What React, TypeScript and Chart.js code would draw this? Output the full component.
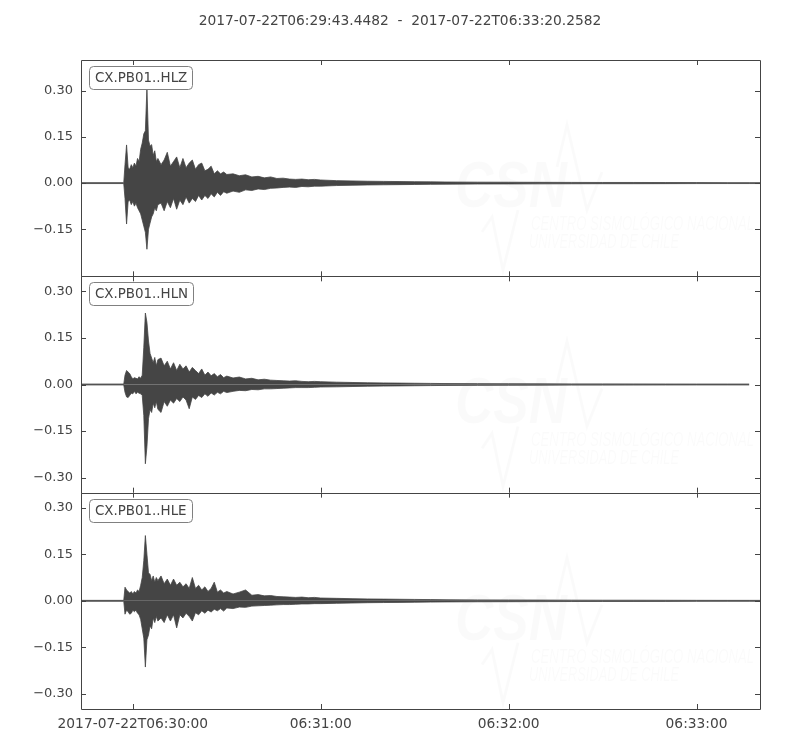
import React, { useEffect, useRef } from "react";
import { Chart, registerables } from "chart.js";

Chart.register(...registerables);

// time axis is in seconds relative to 2017-07-22T06:30:00
const TITLE = "2017-07-22T06:29:43.4482  -  2017-07-22T06:33:20.2582";
const START = -16.5518;
const END = 200.2582;
const X_TICKS = [0, 60, 120, 180];
const X_TICK_LABELS = ["2017-07-22T06:30:00", "06:31:00", "06:32:00", "06:33:00"];

const CHANNELS = ["CX.PB01..HLZ", "CX.PB01..HLN", "CX.PB01..HLE"];
const Y_TICKS_HLZ = [0.3, 0.15, 0, -0.15];
const Y_TICKS = [0.3, 0.15, 0, -0.15, -0.3];
const Y_RANGE_HLZ = [-0.303, 0.4];
const Y_RANGE = [-0.348, 0.348];

// sample times of the envelope (s)
const TIMES = [
  -16.55, -2.9, -2.5, -2, -1.5, -1, -0.5, 0, 0.5, 1, 1.5, 2, 2.5, 3, 3.5, 4, 4.5, 5, 5.5, 6, 6.5, 7, 7.5, 8,
  9, 10, 11, 12, 13, 14, 15, 16, 17, 18, 19, 20, 21, 22, 23, 24, 25, 26, 27, 28, 29, 30,
  32, 34, 36, 38, 40, 42, 44, 46, 48, 50, 52, 54, 56, 58, 60,
  65, 70, 75, 80, 85, 90, 95, 100,
  110, 120, 130, 140, 150, 160, 170, 180, 190,
  196.8, 200.26,
];

// HLZ envelope (upper / lower)
const HLZ_UP = [
  0.0015, 0.0015, 0.06, 0.124, 0.05, 0.045, 0.06, 0.05, 0.065, 0.055, 0.08, 0.07, 0.11, 0.13, 0.16, 0.17, 0.31, 0.14, 0.12, 0.125, 0.09, 0.105, 0.07, 0.08,
  0.06, 0.075, 0.1, 0.055, 0.07, 0.085, 0.05, 0.08, 0.05, 0.065, 0.075, 0.045, 0.06, 0.065, 0.04, 0.045, 0.055, 0.03, 0.04, 0.03, 0.036, 0.028,
  0.03, 0.024, 0.027, 0.02, 0.022, 0.017, 0.02, 0.015, 0.016, 0.013, 0.012, 0.013, 0.011, 0.012, 0.01,
  0.008, 0.007, 0.006, 0.0055, 0.005, 0.0045, 0.004, 0.0035,
  0.003, 0.0028, 0.0025, 0.0022, 0.002, 0.002, 0.0018, 0.0016, 0.0015,
  0.0015, 0.0015,
];
const HLZ_LO = [
  -0.0015, -0.0015, -0.05, -0.133, -0.06, -0.055, -0.07, -0.06, -0.075, -0.065, -0.08, -0.09, -0.1, -0.12, -0.14, -0.16, -0.215, -0.15, -0.13, -0.11, -0.1, -0.08, -0.09, -0.07,
  -0.065, -0.09, -0.06, -0.08, -0.05, -0.085, -0.055, -0.07, -0.045, -0.065, -0.05, -0.06, -0.04, -0.055, -0.04, -0.05, -0.035, -0.045, -0.03, -0.04, -0.028, -0.033,
  -0.026, -0.03, -0.022, -0.024, -0.019, -0.021, -0.017, -0.016, -0.014, -0.013, -0.014, -0.011, -0.012, -0.01, -0.01,
  -0.008, -0.007, -0.006, -0.0055, -0.005, -0.0045, -0.004, -0.0035,
  -0.003, -0.0028, -0.0025, -0.0022, -0.002, -0.002, -0.0018, -0.0016, -0.0015,
  -0.0015, -0.0015,
];

// HLN envelope
const HLN_UP = [
  0.0015, 0.0015, 0.03, 0.045, 0.04, 0.035, 0.025, 0.018, 0.022, 0.02, 0.018, 0.025, 0.02, 0.03, 0.12, 0.23, 0.2, 0.14, 0.1, 0.085, 0.07, 0.087, 0.06, 0.08,
  0.085, 0.06, 0.075, 0.05, 0.07, 0.045, 0.065, 0.05, 0.06, 0.04, 0.055, 0.045, 0.035, 0.05, 0.03, 0.04, 0.028, 0.035, 0.025, 0.032, 0.022, 0.027,
  0.021, 0.024, 0.018, 0.02, 0.015, 0.017, 0.014, 0.013, 0.012, 0.011, 0.012, 0.01, 0.009, 0.01, 0.009,
  0.0075, 0.0065, 0.0055, 0.005, 0.0045, 0.004, 0.0035, 0.003,
  0.0028, 0.0025, 0.0022, 0.002, 0.002, 0.0018, 0.0016, 0.0015, 0.0015,
  0.0015, null,
];
const HLN_LO = [
  -0.0015, -0.0015, -0.025, -0.04, -0.042, -0.035, -0.028, -0.03, -0.022, -0.03, -0.025, -0.028, -0.03, -0.035, -0.1, -0.255, -0.2, -0.11, -0.08, -0.09, -0.06, -0.075, -0.055, -0.08,
  -0.09, -0.055, -0.07, -0.05, -0.06, -0.045, -0.055, -0.04, -0.05, -0.078, -0.04, -0.048, -0.035, -0.042, -0.03, -0.038, -0.027, -0.034, -0.025, -0.03, -0.022, -0.026,
  -0.022, -0.019, -0.02, -0.016, -0.017, -0.014, -0.014, -0.013, -0.012, -0.011, -0.01, -0.01, -0.01, -0.009, -0.008,
  -0.0075, -0.0065, -0.0055, -0.005, -0.0045, -0.004, -0.0035, -0.003,
  -0.0028, -0.0025, -0.0022, -0.002, -0.002, -0.0018, -0.0016, -0.0015, -0.0015,
  -0.0015, null,
];

// HLE envelope
const HLE_UP = [
  0.0015, 0.0015, 0.044, 0.035, 0.03, 0.025, 0.03, 0.022, 0.03, 0.025, 0.035, 0.03, 0.05, 0.075, 0.13, 0.21, 0.15, 0.09, 0.085, 0.065, 0.08, 0.06, 0.075, 0.065,
  0.08, 0.055, 0.07, 0.05, 0.07, 0.05, 0.06, 0.045, 0.055, 0.04, 0.075, 0.04, 0.05, 0.035, 0.045, 0.03, 0.04, 0.06, 0.028, 0.035, 0.025, 0.03,
  0.022, 0.028, 0.035, 0.018, 0.02, 0.016, 0.017, 0.014, 0.013, 0.012, 0.011, 0.012, 0.01, 0.011, 0.009,
  0.008, 0.007, 0.006, 0.0055, 0.005, 0.0045, 0.004, 0.0035,
  0.003, 0.0028, 0.0025, 0.0022, 0.002, 0.002, 0.0018, 0.0016, 0.0015,
  0.0015, 0.0015,
];
const HLE_LO = [
  -0.0015, -0.0015, -0.043, -0.03, -0.035, -0.043, -0.04, -0.03, -0.035, -0.03, -0.04, -0.045, -0.06, -0.09, -0.12, -0.213, -0.125, -0.11, -0.08, -0.09, -0.055, -0.07, -0.05, -0.065,
  -0.055, -0.07, -0.045, -0.065, -0.045, -0.087, -0.045, -0.055, -0.04, -0.05, -0.065, -0.038, -0.045, -0.032, -0.04, -0.03, -0.036, -0.027, -0.032, -0.025, -0.033, -0.023,
  -0.025, -0.02, -0.021, -0.017, -0.016, -0.015, -0.014, -0.013, -0.012, -0.012, -0.011, -0.01, -0.01, -0.009, -0.009,
  -0.008, -0.007, -0.006, -0.0055, -0.005, -0.0045, -0.004, -0.0035,
  -0.003, -0.0028, -0.0025, -0.0022, -0.002, -0.002, -0.0018, -0.0016, -0.0015,
  -0.0015, -0.0015,
];

const INK = "#444444";
const TRACE = "#454545";
const FONT = '"DejaVu Sans", sans-serif';

const PANELS = [
  { id: "yZ", label: CHANNELS[0], up: HLZ_UP, lo: HLZ_LO, ticks: Y_TICKS_HLZ, range: Y_RANGE_HLZ, weight: 3 },
  { id: "yN", label: CHANNELS[1], up: HLN_UP, lo: HLN_LO, ticks: Y_TICKS, range: Y_RANGE, weight: 2 },
  { id: "yE", label: CHANNELS[2], up: HLE_UP, lo: HLE_LO, ticks: Y_TICKS, range: Y_RANGE, weight: 1 },
];

const fmtY = (v: number) => (v < 0 ? "\u2212" : "") + Math.abs(v).toFixed(2);
const crisp = (v: number) => Math.round(v) + 0.5;

const tracePlugin = {
  id: "traceDecor",
  beforeDatasetsDraw(chart: any) {
    // faint CSN watermark in every panel
    const ctx = chart.ctx;
    ctx.save();
    ctx.fillStyle = "rgba(0,0,0,0.018)";
    ctx.strokeStyle = "rgba(0,0,0,0.018)";
    ctx.lineWidth = 3;
    for (const p of PANELS) {
      const dy = chart.scales[p.id].top - 60;
      ctx.font = 'italic bold 65px "Liberation Sans"';
      ctx.fillText("CSN", 455, 207 + dy, 112);
      ctx.font = 'italic 20px "Liberation Sans"';
      ctx.fillText("CENTRO SISMOLÓGICO NACIONAL", 531, 230 + dy, 223);
      ctx.fillText("UNIVERSIDAD DE CHILE", 529, 248 + dy, 150);
      ctx.beginPath();
      ctx.moveTo(557, 167 + dy);
      ctx.lineTo(567, 125 + dy);
      ctx.lineTo(587, 210 + dy);
      ctx.lineTo(602, 172 + dy);
      ctx.moveTo(482, 232 + dy);
      ctx.lineTo(492, 217 + dy);
      ctx.lineTo(503, 270 + dy);
      ctx.lineTo(518, 210 + dy);
      ctx.stroke();
    }
    ctx.restore();
  },
  afterDatasetsDraw(chart: any) {
    const ctx = chart.ctx;
    const { left, right } = chart.chartArea;
    const x = chart.scales.x;
    ctx.save();
    ctx.lineWidth = 1;
    for (const p of PANELS) {
      const s = chart.scales[p.id];
      const top = s.top;
      const bottom = s.bottom;
      ctx.strokeStyle = INK;
      ctx.beginPath();
      ctx.rect(crisp(left), crisp(top), Math.round(right) - Math.round(left), Math.round(bottom) - Math.round(top));
      for (const v of p.ticks) {
        const py = crisp(s.getPixelForValue(v));
        ctx.moveTo(left, py);
        ctx.lineTo(left + 5, py);
        ctx.moveTo(right - 5, py);
        ctx.lineTo(right, py);
      }
      for (const v of X_TICKS) {
        const px = crisp(x.getPixelForValue(v));
        ctx.moveTo(px, top);
        ctx.lineTo(px, top + 5);
        ctx.moveTo(px, bottom - 5);
        ctx.lineTo(px, bottom);
      }
      ctx.stroke();

      // channel label box
      ctx.font = `13.4px ${FONT}`;
      const w = ctx.measureText(p.label).width;
      const bx = crisp(left + 8);
      const by = crisp(top + 6);
      const bw = Math.round(w + 11);
      const bh = 23;
      ctx.beginPath();
      ctx.roundRect(bx, by, bw, bh, 4);
      ctx.fillStyle = "#ffffff";
      ctx.fill();
      ctx.strokeStyle = "#808080";
      ctx.stroke();
      ctx.fillStyle = INK;
      ctx.textBaseline = "middle";
      ctx.textAlign = "left";
      ctx.fillText(p.label, bx + 5.5, by + bh / 2 + 0.5);
    }
    ctx.restore();
  },
  afterDraw(chart: any) {
    const ctx = chart.ctx;
    ctx.save();
    ctx.fillStyle = INK;
    ctx.font = `13.8px ${FONT}`;
    ctx.textAlign = "center";
    ctx.textBaseline = "middle";
    ctx.fillText(TITLE, 400, 21);
    ctx.restore();
  },
};

const App: React.FC = () => {
  const canvasRef = useRef<HTMLCanvasElement | null>(null);

  useEffect(() => {
    if (!canvasRef.current) return;

    const datasets: any[] = [];
    PANELS.forEach((p) => {
      [p.up, p.lo].forEach((arr) => {
        datasets.push({
          data: TIMES.map((t, i) => ({ x: t, y: arr[i] })),
          yAxisID: p.id,
          borderColor: TRACE,
          backgroundColor: TRACE,
          borderWidth: 0.8,
          pointRadius: 0,
          tension: 0,
          fill: "origin",
          spanGaps: false,
        });
      });
    });

    const scales: any = {
      x: {
        type: "linear",
        min: START,
        max: END,
        grid: { display: false, drawTicks: false },
        border: { display: false },
        ticks: {
          padding: 7,
          color: INK,
          font: { family: FONT, size: 13.8 },
          maxRotation: 0,
          autoSkip: false,
          callback: (v: any) => X_TICK_LABELS[X_TICKS.indexOf(Number(v))] ?? "",
        },
        afterBuildTicks: (s: any) => {
          s.ticks = X_TICKS.map((value) => ({ value }));
        },
        afterFit: (s: any) => {
          s.height = 41;
        },
      },
    };
    PANELS.forEach((p) => {
      scales[p.id] = {
        type: "linear",
        position: "left",
        stack: "traces",
        stackWeight: 1,
        weight: p.weight,
        min: p.range[0],
        max: p.range[1],
        grid: { display: false, drawTicks: false },
        border: { display: false },
        ticks: {
          padding: 8,
          color: INK,
          font: { family: FONT, size: 13 },
          callback: (v: any) => fmtY(Number(v)),
        },
        afterBuildTicks: (s: any) => {
          s.ticks = p.ticks.map((value) => ({ value }));
        },
        afterFit: (s: any) => {
          s.width = 81;
        },
      };
    });

    const chart = new Chart(canvasRef.current, {
      type: "line",
      data: { datasets },
      options: {
        responsive: false,
        animation: false,
        layout: { padding: { top: 60, right: 40, bottom: 0, left: 0 } },
        plugins: {
          legend: { display: false },
          tooltip: { enabled: false },
        },
        scales,
      },
      plugins: [tracePlugin],
    });

    return () => {
      chart.destroy();
    };
  }, []);

  return (
    <div style={{ position: "absolute", left: 0, top: 0, width: 800, height: 750, background: "#ffffff" }}>
      <canvas ref={canvasRef} width={800} height={750} style={{ display: "block" }} />
    </div>
  );
};

export default App;
